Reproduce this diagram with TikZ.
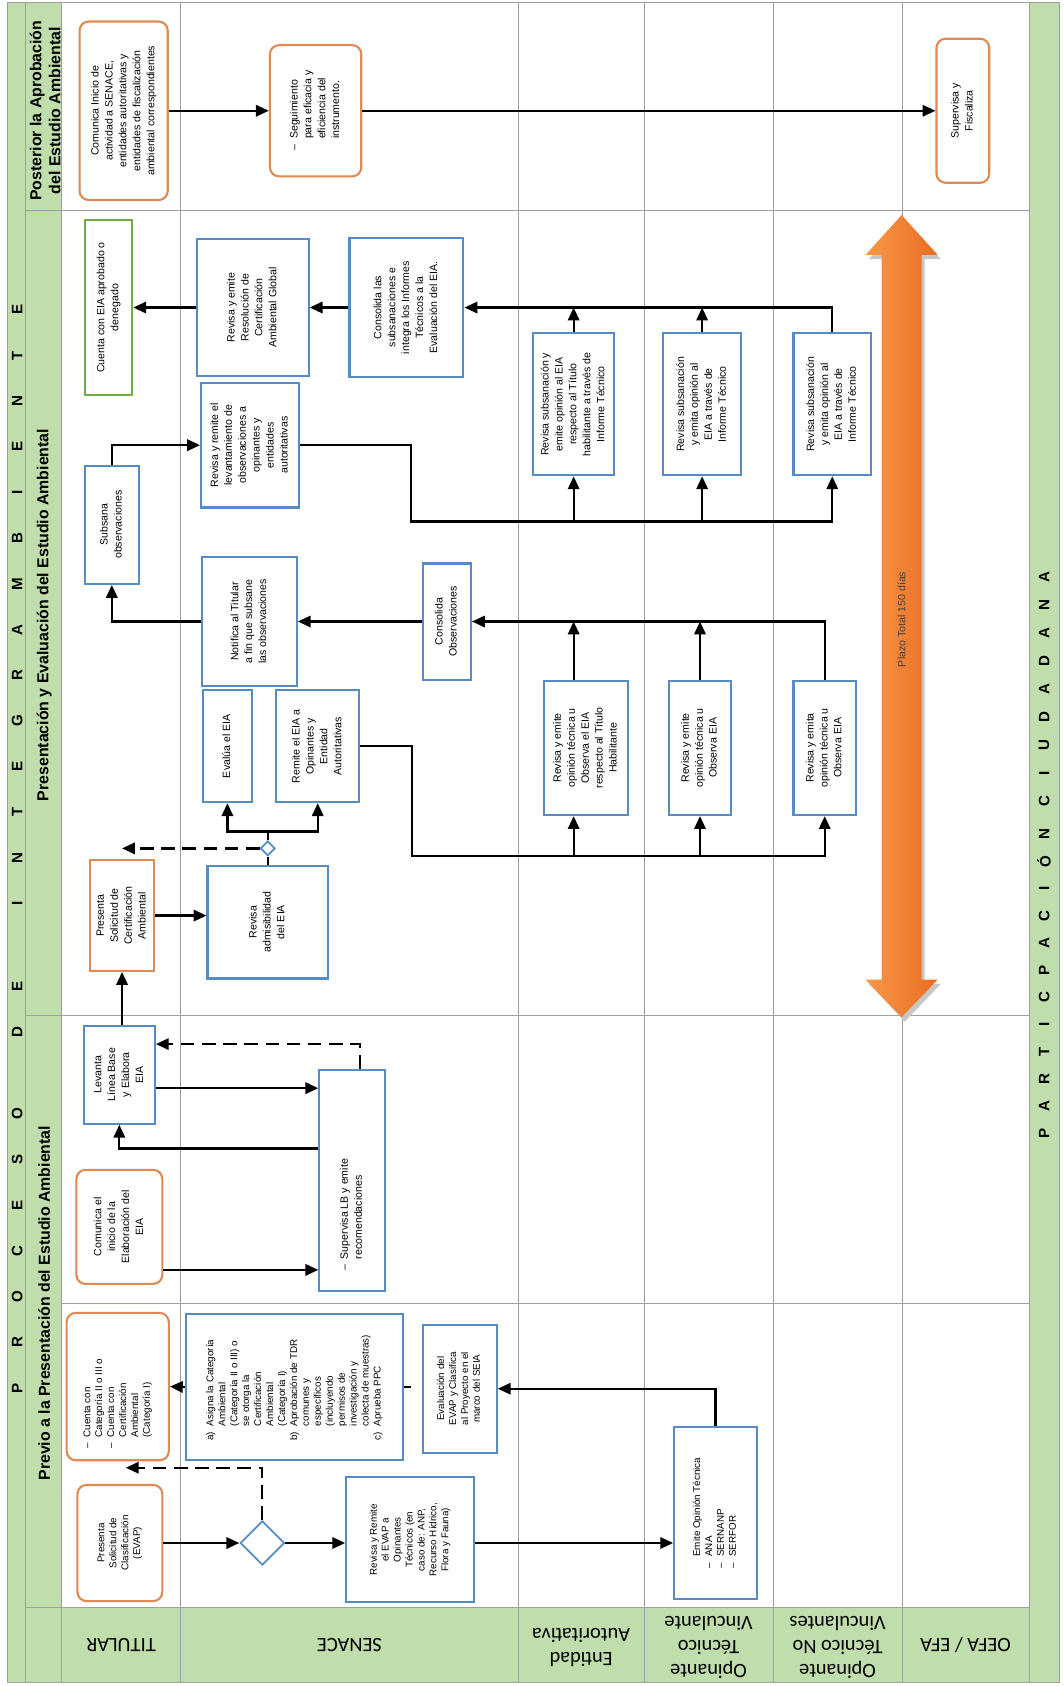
\documentclass[tikz,border=0pt]{standalone}
\usepackage{fontspec}
\setmainfont{Liberation Sans}
\newfontfamily\lanefont{Carlito}
\usepackage{graphicx}
\usetikzlibrary{arrows.meta,shapes.geometric}

\definecolor{lanegreen}{RGB}{192,221,172}
\definecolor{procblue}{RGB}{86,140,196}
\definecolor{termorange}{RGB}{222,138,82}
\definecolor{okgreen}{RGB}{112,173,71}
\definecolor{plazolight}{RGB}{247,152,72}
\definecolor{plazodark}{RGB}{234,108,34}

\def\boxfont{\fontsize{7}{9.2}\selectfont}
\def\smallboxfont{\fontsize{6.5}{7.9}\selectfont}
\def\vtxt#1{\rotatebox{90}{\begin{tabular}{@{}c@{}}#1\end{tabular}}}
\def\vlist#1{\rotatebox{90}{\begin{tabular}{@{}l@{\hspace{4pt}}l@{}}#1\end{tabular}}}
\def\vlistat#1#2{\rotatebox{90}{\makebox[#1][l]{\begin{tabular}{@{}l@{\hspace{4pt}}l@{}}#2\end{tabular}}}}
\def\flowbox[#1](#2)(#3,#4)(#5,#6)#7{\node[#1, minimum width={(#5-#3)*0.025cm}, minimum height={(#6-#4)*0.025cm}] (#2) at ({(#3+#5)/2},{(#4+#6)/2}) {#7};}

\tikzset{
  lane/.style={draw=gray!75, line width=0.6pt},
  proc/.style={draw=procblue, line width=1.4pt, fill=white, inner sep=0pt, font=\boxfont},
  okbox/.style={proc, draw=okgreen},
  solbox/.style={proc, draw=termorange},
  term/.style={proc, draw=termorange, rounded corners=6pt},
  gate/.style={diamond, draw=procblue, fill=white, line width=1.2pt, inner sep=0pt},
  link/.style={line width=1.5pt},
  flow/.style={link, -{Triangle[length=8.5pt,width=7.5pt]}},
  backflow/.style={flow, dash pattern=on 9pt off 5pt},
  stripchar/.style={rotate=90, inner sep=0pt, font=\bfseries\fontsize{10}{10}\selectfont},
  phasetitle/.style={rotate=90, align=center, inner sep=0pt, font=\bfseries\fontsize{10.5}{12.5}\selectfont},
  lanelabel/.style={rotate=180, align=center, inner sep=0pt, font=\lanefont\fontsize{13.5}{16}\selectfont}
}

\begin{document}
\begin{tikzpicture}[x=0.025cm, y=-0.025cm]
	\useasboundingbox (0,0) rectangle (989,1568);
	%%%%% LANES %%%%%
	\fill[lanegreen] (7,2) rectangle (57,1565);
	\fill[lanegreen] (57,1495) rectangle (957,1565);
	\fill[lanegreen] (957,2) rectangle (985,1565);
	\foreach \x in {24,57,168,482,599,719,839,957}
		\draw[lane] (\x,2) -- (\x,1565);
	\draw[lane] (24,196) -- (957,196);
	\draw[lane] (24,944) -- (957,944);
	\draw[lane] (57,1212) -- (957,1212);
	\draw[lane] (24,1495) -- (957,1495);
	\draw[lane] (7,2) rectangle (985,1565);
	
	\foreach \chr [count=\i from 0] in {P,R,O,C,E,S,O}
		\node[stripchar] at (16,{1291-42.5*\i}) {\chr};
	\foreach \chr [count=\i from 0] in {D,E}
		\node[stripchar] at (16,{959.5-42.5*\i}) {\chr};
	\foreach \chr [count=\i from 0] in {I,N,T,E,G,R,A,M,B,I,E,N,T,E}
		\node[stripchar] at (16,{840.5-42.5*\i}) {\chr};
	\foreach \chr [count=\i from 0] in {P,A,R,T,I,C,P,A,C,I,Ó,N}
		\node[stripchar] at (971,{1054-25.3*\i}) {\chr};
	\foreach \chr [count=\i from 0] in {C,I,U,D,A,D,A,N,A}
		\node[stripchar] at (971,{745-26*\i}) {\chr};
	
	\node[phasetitle] (tPost) at (42,103) {Posterior la Aprobación\\del Estudio Ambiental};
	\node[phasetitle] (tPres) at (41,572) {Presentación y Evaluación del Estudio Ambiental};
	\node[phasetitle] (tPrev) at (41,1212) {Previo a la Presentación del Estudio Ambiental};
	
	\node[lanelabel] (lTit) at (112.5,1530) {TITULAR};
	\node[lanelabel] (lSen) at (325,1530) {SENACE};
	\node[lanelabel] (lEnt) at (540.5,1532) {Entidad\\Autoritativa};
	\node[lanelabel] (lOtv) at (659,1532) {Opinante\\Técnico\\Vinculante};
	\node[lanelabel] (lOtnv) at (779,1532) {Opinante\\Técnico No\\Vinculantes};
	\node[lanelabel] (lOefa) at (898,1530) {OEFA / EFA};
	
	%%%%% PLAZO %%%%%
	\begin{scope}[shift={(3,4)}]
		\fill[black!22] (838.5,200) -- (872,237) -- (857,237) -- (857,911) -- (872,911) -- (838.5,946) -- (805,911) -- (820,911) -- (820,237) -- (805,237) -- cycle;
	\end{scope}
	\shade[left color=plazolight, right color=plazodark] (838.5,200) -- (872,237) -- (857,237) -- (857,911) -- (872,911) -- (838.5,946) -- (805,911) -- (820,911) -- (820,237) -- (805,237) -- cycle;
	\node[rotate=90, font=\boxfont, text=black!75] (plazo) at (838.5,576) {Plazo Total 150 días};
	
	%%%%% POSTERIOR %%%%%
	\flowbox[term](comInicio)(74,20)(156,186){\vtxt{Comunica Inicio de\\actividad a SENACE,\\entidades autoritativas y\\entidades de fiscalización\\ambiental correspondientes}}
	\flowbox[term](seguim)(251,42)(336,164){\vlist{–&Seguimiento\\&para eficacia y\\&eficiencia del\\&instrumento.}}
	\flowbox[term](superv)(871,36)(920,170){\vtxt{Supervisa y\\Fiscaliza}}
	\draw[flow] (comInicio.east) -- (seguim.west);
	\draw[flow] (seguim.east) -- (superv.west);
	
	%%%%% PRESENTACION %%%%%
	\flowbox[okbox](eiaOk)(79,205)(123,367){\vtxt{Cuenta con EIA aprobado o\\denegado}}
	\flowbox[proc](resolCert)(183,222)(287,350){\vtxt{Revisa y emite\\Resolución de\\Certificación\\Ambiental Global}}
	\flowbox[proc](consSubs)(325,221)(431,351){\vtxt{Consolida las\\subsanaciones e\\integra los Informes\\Técnicos a la\\Evaluación del EIA.}}
	\flowbox[proc](revLev)(187,356)(278,472){\vtxt{Revisa y remite el\\levantamiento de\\observaciones a\\opinantes y\\entidades\\autoritativas}}
	\flowbox[proc](subsana)(79,433)(129,543){\vtxt{Subsana\\observaciones}}
	\flowbox[proc](notif)(188,518)(276,638){\vtxt{Notifica al Titular\\a fin que subsane\\las observaciones}}
	\flowbox[proc](consObs)(393,524)(438,632){\vtxt{Consolida\\Observaciones}}
	\flowbox[proc](subsEnt)(496,310)(571,442){\vtxt{Revisa subsanación y\\emite opinión al EIA\\respecto al Título\\habilitante a través de\\Informe Técnico}}
	\flowbox[proc](subsOTV)(617,310)(689,442){\vtxt{Revisa subsanación\\y emita opinión al\\EIA a través de\\Informe Técnico}}
	\flowbox[proc](subsOTNV)(738,310)(810,442){\vtxt{Revisa subsanación\\y emita opinión al\\EIA a través de\\Informe Técnico}}
	\flowbox[proc](opEnt)(506,633)(584,758){\vtxt{Revisa y emite\\opinión técnica u\\Observa el EIA\\respecto al Título\\Habilitante}}
	\flowbox[proc](opOTV)(622,633)(680,758){\vtxt{Revisa y emite\\opinión técnica u\\Observa EIA}}
	\flowbox[proc](opOTNV)(738,633)(796,758){\vtxt{Revisa y emita\\opinión técnica u\\Observa EIA}}
	\flowbox[proc](evalua)(189,642)(234,746){\vtxt{Evalúa el EIA}}
	\flowbox[proc](remite)(257,642)(334,746){\vtxt{Remite el EIA a\\Opinantes y\\Entidad\\Autoritativas}}
	\node[gate, minimum size=0.34cm] (gateB) at (249,789) {};
	\flowbox[proc](admis)(193,805)(305,910){\vtxt{Revisa\\admisibilidad\\del EIA}}
	\flowbox[solbox](solCert)(84,800)(143,903){\vtxt{Presenta\\Solicitud de\\Certificación\\Ambiental}}
	\flowbox[proc](levanta)(78,954)(144,1045){\vtxt{Levanta\\Línea Base\\y Elabora\\EIA}}
	\flowbox[proc](supLB)(297,995)(358,1201){\vlistat{4.2cm}{–&Supervisa LB y emite\\&recomendaciones}}
	\flowbox[term](comElab)(71,1088)(151,1194){\vtxt{Comunica el\\inicio de la\\Elaboración del\\EIA}}
	
	\coordinate (levTurn) at (382,485);
	\coordinate (remTurn) at (383,796);
	\coordinate (lbOut) at (0,1012);
	\coordinate (lbBack) at (335,971);
	\coordinate (lbRet) at (0,1068);
	\coordinate (elabOut) at (0,1181);
	
	\draw[flow] (consSubs.west) -- (resolCert.east);
	\draw[flow] (resolCert.west) -- (eiaOk.east);
	\draw[flow] (subsOTNV.north) |- (consSubs.east);
	\draw[flow] (subsEnt.north) -- (subsEnt.north |- consSubs.east);
	\draw[flow] (subsOTV.north) -- (subsOTV.north |- consSubs.east);
	\draw[flow] (revLev.east) -| (levTurn) -| (subsOTNV.south);
	\draw[flow] (subsEnt.south |- levTurn) -- (subsEnt.south);
	\draw[flow] (subsOTV.south |- levTurn) -- (subsOTV.south);
	\draw[flow] (subsana.north) |- (revLev.west);
	\draw[flow] (notif.west) -| (subsana.south);
	\draw[flow] (consObs.west) -- (notif.east);
	\draw[flow] (opOTNV.north) |- (consObs.east);
	\draw[flow] (subsEnt |- opEnt.north) -- (subsEnt |- consObs.east);
	\draw[flow] (opOTV.north) -- (opOTV.north |- consObs.east);
	\draw[flow] (remite.east) -| (remTurn) -| (opOTNV.south);
	\draw[flow] (subsEnt |- remTurn) -- (subsEnt |- opEnt.south);
	\draw[flow] (opOTV.south |- remTurn) -- (opOTV.south);
	\draw[link] (gateB.south) -- (admis.north);
	\draw[flow] (gateB.north) -- ++(0,-8) -| (evalua.south);
	\draw[flow] (gateB.north) -- ++(0,-8) -| (remite.south);
	\draw[backflow] (gateB.west) -- (gateB -| solCert);
	\draw[flow] (solCert.east) -- (solCert.east -| admis.west);
	\draw[flow] (levanta.north -| solCert) -- (solCert.south);
	\draw[flow] (levanta.east |- lbOut) -- (supLB.west |- lbOut);
	\draw[backflow] (supLB.north -| lbBack) |- (levanta.east |- lbBack);
	\draw[flow] (supLB.west |- lbRet) -| (levanta.south);
	\draw[flow] (comElab.east |- elabOut) -- (supLB.west |- elabOut);
	
	%%%%% PREVIO %%%%%
	\flowbox[term, font=\smallboxfont](cuenta)(62,1221)(157,1358){\vlistat{2.9cm}{–&Cuenta con\\&Categoría II o III o\\–&Cuenta con\\&Certificación\\&Ambiental\\&(Categoría I)}}
	\flowbox[proc, font=\smallboxfont](asigna)(173,1222)(375,1358){\vlistat{2.5cm}{a)&Asigna la Categoría\\&Ambiental\\&(Categoría II o III) o\\&se otorga la\\&Certificación\\&Ambiental\\&(Categoría I)\\b)&Aprobación de TDR\\&comunes y\\&específicos\\&(incluyendo\\&permisos de\\&investigación y\\&colecta de muestras)\\c)&Aprueba PPC}}
	\flowbox[proc, font=\smallboxfont](evalEVAP)(393,1232)(462,1351){\vtxt{Evaluación del\\EVAP y Clasifica\\al Proyecto en el\\marco del SEIA}}
	\flowbox[term, font=\smallboxfont](solClas)(72,1381)(151,1489){\vtxt{Presenta\\Solicitud de\\Clasificación\\(EVAP)}}
	\node[gate, minimum size=1.03cm] (gateA) at (244,1435) {};
	\flowbox[proc, font=\smallboxfont](revRemite)(322,1374)(441,1490){\vtxt{Revisa y Remite\\el EVAP a\\Opinantes\\Técnicos (en\\caso de: ANP,\\Recurso Hídrico,\\Flora y Fauna)}}
	\flowbox[proc, font=\smallboxfont](emiteOp)(627,1327)(704,1487){\vlist{&Emite Opinión Técnica\\–&ANA\\–&SERNANP\\–&SERFOR}}
	\coordinate (cuentaIn) at (117,1365);
	
	\draw[flow] (asigna.west) -- (cuenta.east);
	\draw[link] (asigna.east) -- ++(6,0);
	\draw[flow] (emiteOp.north) |- (evalEVAP.east);
	\draw[flow] (solClas.east) -- (gateA.west);
	\draw[flow] (gateA.east) -- (gateA.east -| revRemite.west);
	\draw[flow] (revRemite.east |- gateA) -- (emiteOp.west |- gateA);
	\draw[backflow] (gateA.north) |- (cuentaIn);
\end{tikzpicture}
\end{document}
